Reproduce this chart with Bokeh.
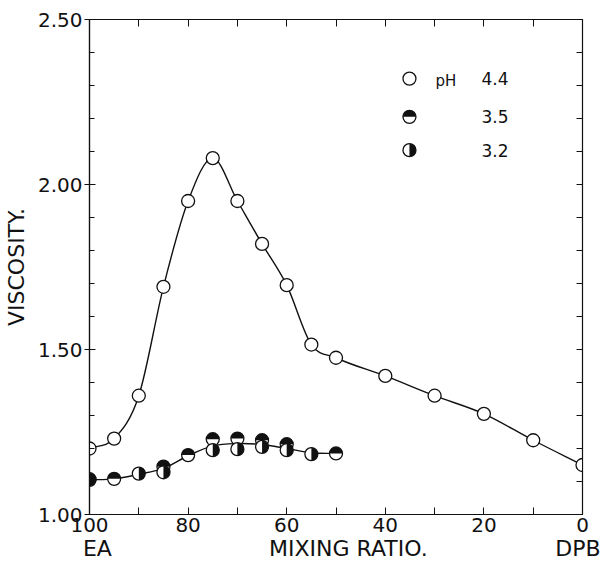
import numpy as np
from bokeh.plotting import figure
from bokeh.models import (Range1d, LinearAxis, Label, SingleIntervalTicker,
                          FixedTicker)
from bokeh.embed import file_html
from bokeh.resources import INLINE

# ---------------- data ----------------
ph44_x = [100, 95, 90, 85, 80, 75, 70, 65, 60, 55, 50, 40, 30, 20, 10, 0]
ph44_y = [1.20, 1.23, 1.36, 1.69, 1.95, 2.08, 1.95, 1.82, 1.695, 1.515,
          1.475, 1.42, 1.36, 1.305, 1.225, 1.15]

ph35_x = [100, 95, 85, 80, 75, 70, 65, 60, 50]
ph35_y = [1.105, 1.108, 1.145, 1.18, 1.228, 1.230, 1.225, 1.213, 1.185]

ph32_x = [100, 90, 85, 75, 70, 65, 60, 55]
ph32_y = [1.107, 1.124, 1.128, 1.195, 1.198, 1.205, 1.195, 1.183]

# smooth curve drawn through the low-pH points
low_curve_x = [100, 95, 90, 85, 80, 75, 70, 65, 60, 55, 50]
low_curve_y = [1.105, 1.108, 1.122, 1.14, 1.178, 1.208, 1.215, 1.212,
               1.20, 1.187, 1.185]

x_major = [100, 80, 60, 40, 20, 0]
x_minor = [90, 70, 50, 30, 10]
x_tick_labels = ["100", "80", "60", "40", "20", "0"]
y_major = [1.0, 1.5, 2.0, 2.5]
y_minor = [1.1, 1.2, 1.3, 1.4, 1.6, 1.7, 1.8, 1.9, 2.1, 2.2, 2.3, 2.4]
y_tick_labels = ["1.00", "1.50", "2.00", "2.50"]
legend_labels = ["4.4", "3.5", "3.2"]
# second row under the x axis: end-member names and the axis title
row2_x = [98.4, 47.5, 0]
row2_labels = ["EA", "MIXING RATIO.", "DPB"]

FONT = "DejaVu Sans"
INK = "#111111"


def hermite_bezier(xs, ys):
    """Smooth cubic (y as a function of x) through the given knots."""
    X = np.asarray(xs, float)
    Y = np.asarray(ys, float)
    n = len(X)
    h = np.diff(X)
    d = np.diff(Y) / h
    m = np.zeros(n)
    m[0], m[-1] = d[0], d[-1]
    for i in range(1, n - 1):
        m[i] = (d[i - 1] * h[i] + d[i] * h[i - 1]) / (h[i - 1] + h[i])
    out = dict(x0=X[:-1], y0=Y[:-1], x1=X[1:], y1=Y[1:],
               cx0=X[:-1] + h / 3, cy0=Y[:-1] + m[:-1] * h / 3,
               cx1=X[1:] - h / 3, cy1=Y[1:] - m[1:] * h / 3)
    return {k: list(v) for k, v in out.items()}


p = figure(width=600, height=567, x_range=Range1d(100, 0),
           y_range=Range1d(1.0, 2.5), output_backend="svg",
           toolbar_location=None, min_border_left=87, min_border_right=18,
           min_border_top=19, min_border_bottom=53)
p.grid.visible = False
p.outline_line_color = INK
p.outline_line_width = 1.2
p.background_fill_color = "white"
p.border_fill_color = "white"

# bottom axis
xa = p.xaxis[0]
xa.ticker = FixedTicker(ticks=x_major, minor_ticks=x_minor)
xa.major_label_overrides = {v: s for v, s in zip(x_major, x_tick_labels)}
xa.major_tick_in = 7
xa.major_tick_out = 0
xa.minor_tick_in = 7
xa.minor_tick_out = 0
xa.major_label_standoff = 3

# left axis
ya = p.yaxis[0]
ya.ticker = FixedTicker(ticks=y_major, minor_ticks=y_minor)
ya.major_label_overrides = {v: s for v, s in zip(y_major, y_tick_labels)}
ya.major_tick_in = 6
ya.major_tick_out = 5
ya.minor_tick_in = 5
ya.minor_tick_out = 0
ya.major_label_standoff = 2
ya.axis_label = "VISCOSITY."
ya.axis_label_standoff = 6

for ax in (xa, ya):
    ax.major_label_text_font = FONT
    ax.major_label_text_font_size = "20px"
    ax.major_label_text_color = INK
    ax.axis_label_text_font = FONT
    ax.axis_label_text_font_size = "22px"
    ax.axis_label_text_font_style = "normal"
    ax.axis_label_text_color = INK
    ax.axis_line_color = INK
    ax.axis_line_width = 1.2
    ax.major_tick_line_color = INK
    ax.minor_tick_line_color = INK

# second text row under the x axis (EA, MIXING RATIO., DPB)
row2 = LinearAxis(ticker=FixedTicker(ticks=row2_x, minor_ticks=[]),
                  major_label_overrides={v: s for v, s in
                                         zip(row2_x, row2_labels)},
                  axis_line_color=None, major_tick_line_color=None,
                  minor_tick_line_color=None, major_tick_in=0,
                  major_tick_out=0, minor_tick_in=0, minor_tick_out=0,
                  major_label_standoff=1, major_label_text_font=FONT,
                  major_label_text_font_size="22px",
                  major_label_text_color=INK)
p.add_layout(row2, "below")

# top and right axes: tick marks only (labels not drawn)
top = LinearAxis(ticker=SingleIntervalTicker(interval=10, num_minor_ticks=0),
                 major_tick_in=7, major_tick_out=0, minor_tick_in=0,
                 minor_tick_out=0, major_label_text_font_size="1px",
                 major_label_text_color=None, major_label_standoff=0,
                 axis_line_color=INK, major_tick_line_color=INK)
p.add_layout(top, "above")
right = LinearAxis(ticker=SingleIntervalTicker(interval=0.1, num_minor_ticks=0),
                   major_tick_in=6, major_tick_out=0, minor_tick_in=0,
                   minor_tick_out=0, major_label_text_font_size="1px",
                   major_label_text_color=None, major_label_standoff=0,
                   axis_line_color=INK, major_tick_line_color=INK)
p.add_layout(right, "right")

# curves
p.bezier(line_color=INK, line_width=1.4, **hermite_bezier(ph44_x, ph44_y))
p.bezier(line_color=INK, line_width=1.4,
         **hermite_bezier(low_curve_x, low_curve_y))

R = 6.5  # marker radius in screen pixels


def half_marker(xs, ys, start, end):
    p.scatter(xs, ys, marker="circle", size=2 * R, fill_color="white",
              line_color=None)
    p.wedge(x=xs, y=ys, radius=R, radius_units="screen", start_angle=start,
            end_angle=end, fill_color=INK, line_color=None)
    p.scatter(xs, ys, marker="circle", size=2 * R, fill_color=None,
              line_color=INK, line_width=1.3)


# open circles pH 4.4
p.scatter(ph44_x, ph44_y, marker="circle", size=2 * R, fill_color="white",
          line_color=INK, line_width=1.3)
# pH 3.5: upper half black
half_marker(ph35_x, ph35_y, 0, np.pi)
# pH 3.2: right half black
half_marker(ph32_x, ph32_y, -np.pi / 2, np.pi / 2)

# legend (drawn manually)
leg_x = 35.1
leg_y = [2.321, 2.205, 2.104]
p.scatter([leg_x], [leg_y[0]], marker="circle", size=2 * R,
          fill_color="white", line_color=INK, line_width=1.3)
half_marker([leg_x], [leg_y[1]], 0, np.pi)
half_marker([leg_x], [leg_y[2]], -np.pi / 2, np.pi / 2)
p.add_layout(Label(x=29.8, y=leg_y[0], text="pH", text_font=FONT,
                   text_font_size="15px", text_baseline="middle",
                   text_color=INK, y_offset=-2))
for yy, lab in zip(leg_y, legend_labels):
    p.add_layout(Label(x=20.5, y=yy, text=lab, text_font=FONT,
                       text_font_size="17px", text_baseline="middle",
                       text_color=INK))

open("out.html", "w").write(file_html(p, INLINE))
